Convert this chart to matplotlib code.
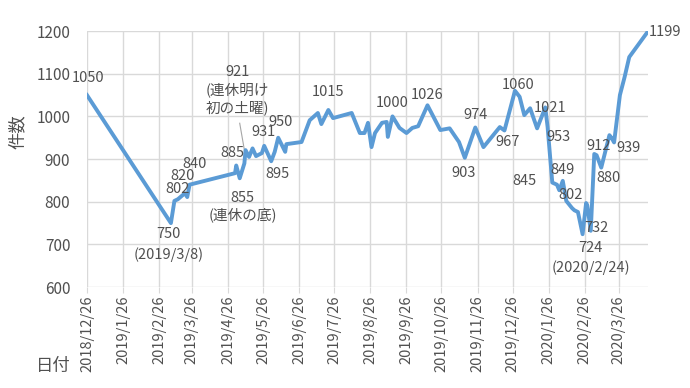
import matplotlib
matplotlib.use("Agg")
import matplotlib.pyplot as plt
import matplotlib.dates as mdates
import pandas as pd

plt.rcParams['font.family'] = ['Noto Sans CJK JP', 'DejaVu Sans']

dates = ["2018-12-26", "2019-03-08", "2019-03-11", "2019-03-14", "2019-03-20", "2019-03-22",
         "2019-03-24", "2019-05-02", "2019-05-03", "2019-05-06", "2019-05-10", "2019-05-11",
         "2019-05-14", "2019-05-17", "2019-05-20", "2019-05-25", "2019-05-27", "2019-06-02",
         "2019-06-05", "2019-06-08", "2019-06-12", "2019-06-14", "2019-06-15", "2019-06-28",
         "2019-07-05", "2019-07-12", "2019-07-15", "2019-07-21", "2019-07-25", "2019-08-10",
         "2019-08-17", "2019-08-21", "2019-08-24", "2019-08-27", "2019-08-30", "2019-09-05",
         "2019-09-09", "2019-09-10", "2019-09-14", "2019-09-20", "2019-09-26", "2019-10-01",
         "2019-10-06", "2019-10-14", "2019-10-25", "2019-11-02", "2019-11-10", "2019-11-15",
         "2019-11-24", "2019-12-01", "2019-12-15", "2019-12-19", "2019-12-28", "2020-01-01",
         "2020-01-05", "2020-01-10", "2020-01-16", "2020-01-23", "2020-01-25", "2020-01-29",
         "2020-02-02", "2020-02-04", "2020-02-07", "2020-02-10", "2020-02-15", "2020-02-17",
         "2020-02-20", "2020-02-24", "2020-02-27", "2020-02-28", "2020-03-02", "2020-03-05",
         "2020-03-07", "2020-03-11", "2020-03-18", "2020-03-20", "2020-03-22", "2020-03-27",
         "2020-03-31", "2020-04-04", "2020-04-20"]
counts = [1050, 750, 802, 806, 820, 811,
          840, 867, 885, 855, 890, 921,
          905, 925, 907, 914, 931, 895,
          917, 950, 928, 917, 935, 940,
          991, 1008, 982, 1015, 996, 1008,
          961, 961, 985, 928, 961, 985,
          987, 952, 1000, 973, 961, 973,
          977, 1026, 968, 972, 940, 903,
          974, 928, 975, 967, 1060, 1046,
          1003, 1019, 972, 1021, 975, 845,
          840, 827, 849, 802, 785, 780,
          776, 724, 797, 792, 732, 912,
          909, 880, 956, 949, 939, 1050,
          1092, 1139, 1199]

tick_dates = ["2018-12-26", "2019-01-26", "2019-02-26", "2019-03-26", "2019-04-26", "2019-05-26",
              "2019-06-26", "2019-07-26", "2019-08-26", "2019-09-26", "2019-10-26", "2019-11-26",
              "2019-12-26", "2020-01-26", "2020-02-26", "2020-03-26"]
y_ticks = [600, 700, 800, 900, 1000, 1100, 1200]

# data labels: text, anchor date, anchor value (label placement)
label_texts = ["1050", "750\n(2019/3/8)", "802", "820", "840", "885", "855", "(連休の底)",
               "921", "(連休明け", "初の土曜)", "931", "950", "895", "1015", "1000", "1026",
               "903", "974", "1060", "967", "1021", "953", "845", "849", "802", "912", "880",
               "939", "732", "724", "(2020/2/24)", "1199"]
label_dates = ["2018-12-27", "2019-03-06", "2019-03-14", "2019-03-18", "2019-03-28", "2019-04-30",
               "2019-05-08", "2019-05-09", "2019-05-04", "2019-05-04", "2019-05-04", "2019-05-26",
               "2019-06-10", "2019-06-07", "2019-07-21", "2019-09-14", "2019-10-14", "2019-11-14",
               "2019-11-24", "2019-12-31", "2019-12-22", "2020-01-27", "2020-02-03", "2020-01-05",
               "2020-02-07", "2020-02-14", "2020-03-09", "2020-03-17", "2020-04-03", "2020-03-07",
               "2020-03-02", "2020-03-02", "2020-04-21"]
label_vals = [1090, 700, 830, 861, 888, 914, 808, 769,
              1104, 1062, 1020, 963, 987, 865, 1057, 1031, 1050,
              867, 1003, 1073, 940, 1019, 952, 848, 874, 816, 930, 855,
              926, 738, 691, 645, 1198]

text_col = "#505050"
fig = plt.figure(figsize=(6.9, 3.88), dpi=100)
ax = fig.add_axes([0.126, 0.260, 0.813, 0.660])

x = pd.to_datetime(dates)
ax.plot(x, counts, color="#5B9BD5", linewidth=2.8, solid_joinstyle="round", zorder=3)

ax.set_xlim(pd.Timestamp("2018-12-26"), pd.Timestamp("2020-04-20"))
ax.set_ylim(600, 1200)
ax.set_yticks(y_ticks)
ax.set_xticks(pd.to_datetime(tick_dates))
ax.set_xticklabels([f"{d.year}/{d.month}/{d.day}" for d in pd.to_datetime(tick_dates)],
                   rotation=90, fontsize=10.5, color=text_col)
ax.tick_params(axis="y", length=0, labelsize=11, labelcolor=text_col, pad=12)
ax.tick_params(axis="x", length=4, color="#D9D9D9", pad=2)
ax.grid(True, color="#D9D9D9", linewidth=1)
for s in ax.spines.values():
    s.set_visible(False)
ax.set_axisbelow(True)

for t, d, v in zip(label_texts, label_dates, label_vals):
    ha = "left" if t == "1199" else "center"
    ax.text(pd.Timestamp(d), v, t, ha=ha, va="center", fontsize=10.5, color=text_col,
            linespacing=1.6, zorder=4)

# leader line for the 921 label
ax.plot(pd.to_datetime(["2019-05-06", "2019-05-10"]), [984, 921], color="#A6A6A6",
        linewidth=0.8, zorder=2)

fig.text(0.026, 0.66, "件数", rotation=90, ha="center", va="center", fontsize=12.5, color=text_col)
fig.text(0.078, 0.057, "日付", ha="center", va="center", fontsize=12.5, color=text_col)

fig.savefig("out.png", dpi=100)
